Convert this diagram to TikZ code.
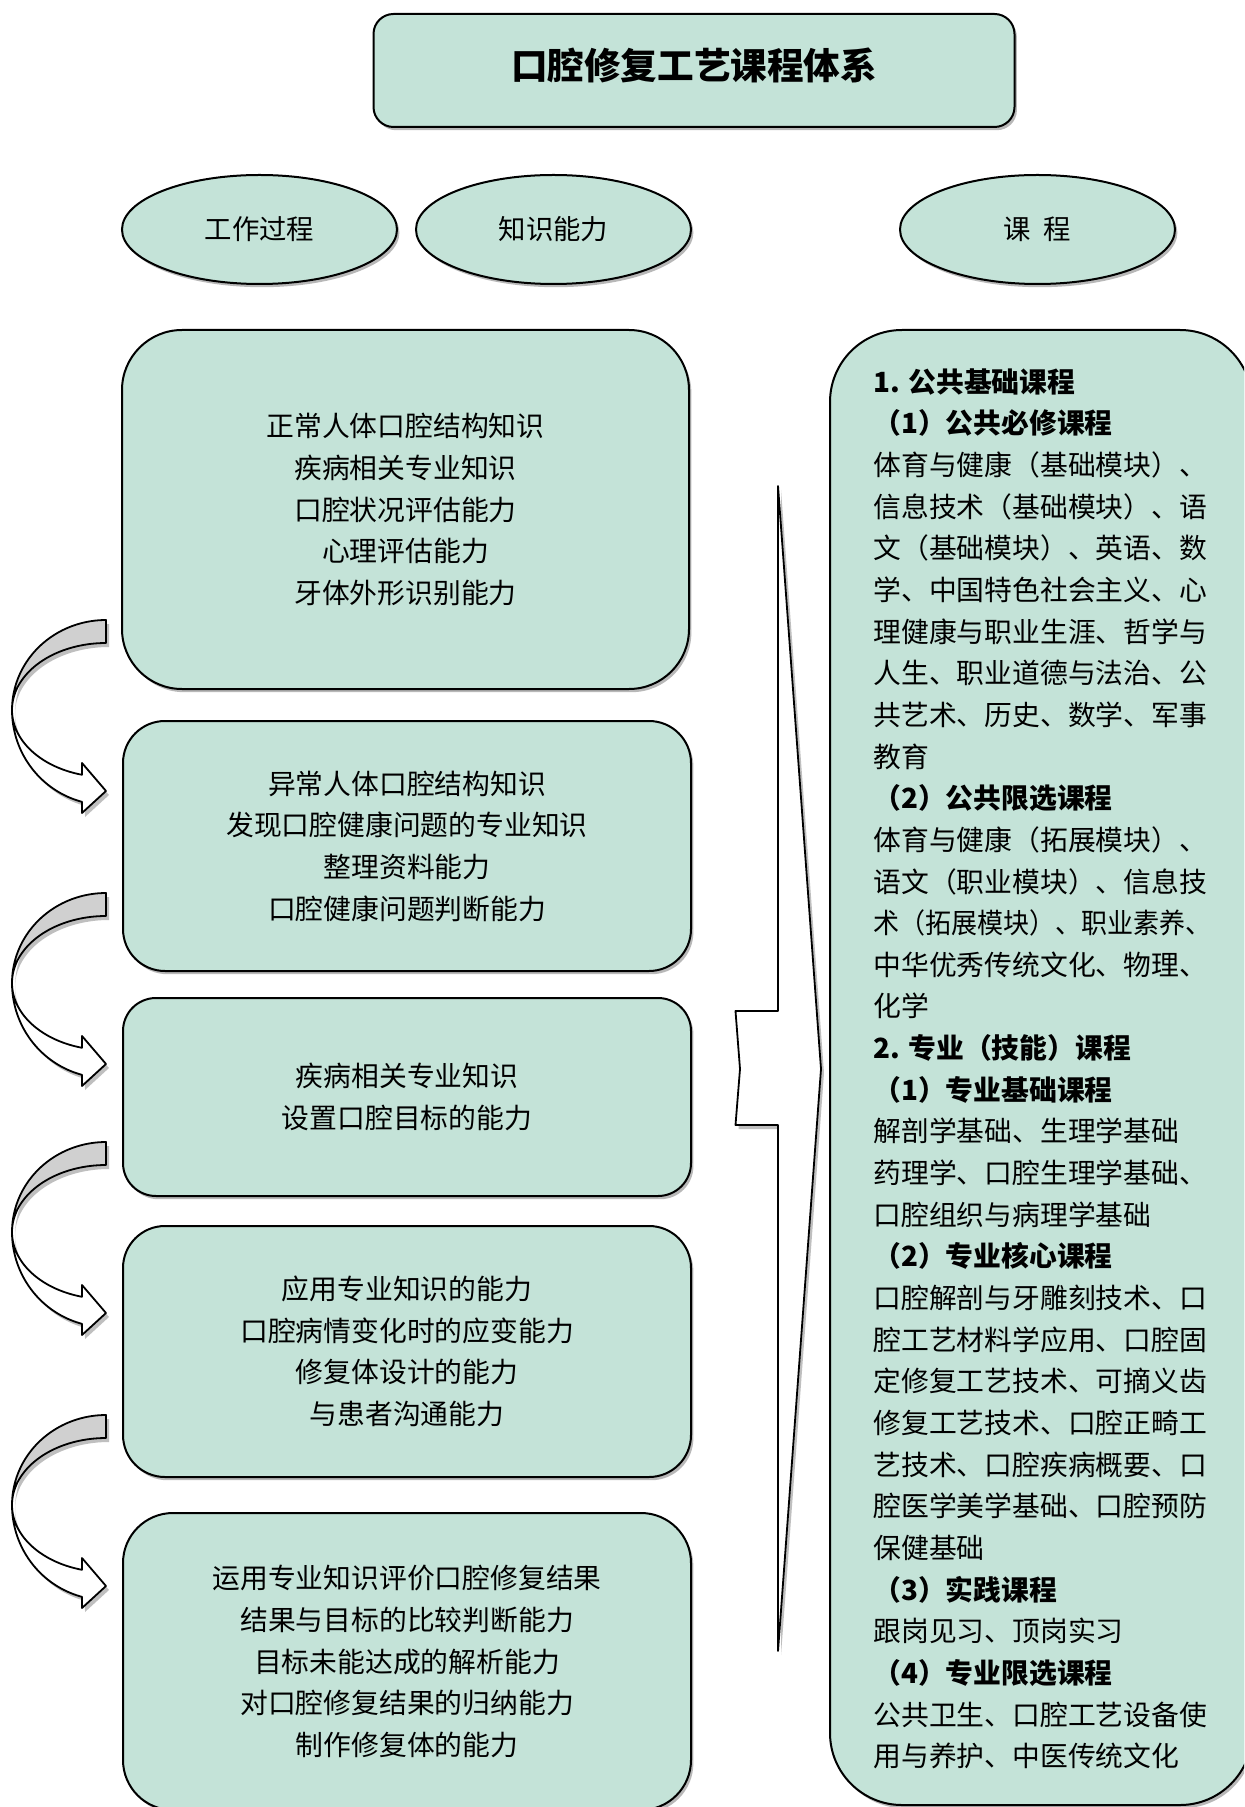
\documentclass[tikz,border=0pt]{standalone}
\usepackage{fontspec}
\usepackage{graphicx}
\setmainfont{Noto Sans CJK SC}
\usetikzlibrary{shapes.geometric,shadows}
\definecolor{boxgreen}{RGB}{196,227,216}
\definecolor{backgray}{RGB}{208,208,208}
\definecolor{shadowgray}{RGB}{140,140,140}
\newcommand{\bodyfont}{\fontsize{13.9pt}{20.83pt}\selectfont}
\newcommand{\curvarrow}[1]{%
  \begin{scope}[shift={(0,#1)}]
    \begin{scope}[shift={(3,4)}]
      \fill[shadowgray,opacity=0.55]
        plot[domain=90:180,samples=40,variable=\a] ({106+94*cos(\a)},{90-90*sin(\a)})
        -- plot[domain=180:90,samples=40,variable=\a] ({106+94*cos(\a)},{90-67*sin(\a)}) -- cycle;
      \fill[shadowgray,opacity=0.55]
        plot[domain=180:255.2,samples=40,variable=\a] ({106+94*cos(\a)},{90-95*sin(\a)})
        -- (82,193) -- (106,171) -- (82,143) -- (82,154.8)
        -- plot[domain=255.2:180,samples=40,variable=\a] ({106+94*cos(\a)},{90-67*sin(\a)}) -- cycle;
    \end{scope}
    \filldraw[arrowline,fill=backgray]
      plot[domain=90:180,samples=40,variable=\a] ({106+94*cos(\a)},{90-90*sin(\a)})
      -- plot[domain=180:90,samples=40,variable=\a] ({106+94*cos(\a)},{90-67*sin(\a)}) -- cycle;
    \filldraw[arrowline,fill=white]
      plot[domain=180:255.2,samples=40,variable=\a] ({106+94*cos(\a)},{90-95*sin(\a)})
      -- (82,193) -- (106,171) -- (82,143) -- (82,154.8)
      -- plot[domain=255.2:180,samples=40,variable=\a] ({106+94*cos(\a)},{90-67*sin(\a)}) -- cycle;
  \end{scope}}
\begin{document}
\begin{tikzpicture}[x=0.5pt,y=-0.5pt,
  arrowline/.style={draw=black,line width=0.9pt,line join=round},
  myshadow/.style={drop shadow={shadow xshift=1.2pt,shadow yshift=-1.6pt,fill=black!55,opacity=0.5}},
  greenbox/.style={draw=black,line width=1pt,fill=boxgreen,align=center,inner sep=0pt,myshadow,font=\bodyfont},
  oval/.style={ellipse,draw=black,line width=1pt,fill=boxgreen,inner sep=0pt,myshadow,
    minimum width=137.5pt,minimum height=54.5pt,font=\fontsize{13.7pt}{16pt}\selectfont},
  rline/.style={anchor=base west,inner sep=0pt,font=\bodyfont}]
\useasboundingbox (0,0) rectangle (1244,1807);
\clip (0,0) rectangle (1244,1807);
\fill[white] (0,0) rectangle (1244,1807);

% title
\node[greenbox,minimum width=320.5pt,minimum height=56.5pt,rounded corners=10pt,
  font=\fontsize{18.3pt}{22pt}\selectfont\bfseries] (title) at (694,70.5) {};
\node[inner sep=0pt,font=\fontsize{18.3pt}{22pt}\selectfont\bfseries] (titletext) at (694,65) {口腔修复工艺课程体系};

% headers
\node[oval] (e1) at (259.5,229.5) {工作过程};
\node[oval] (e2) at (553.5,229.5) {知识能力};
\node[oval] (e3) at (1037.5,229.5) {课\hspace{0.45em}程};

% big arrow
\begin{scope}[shift={(3,4)}]
\fill[shadowgray,opacity=0.55] (778,486) -- (821,1069) -- (778,1651) -- (778,1125) -- (735.5,1125) -- (740,1069) -- (735.5,1011) -- (778,1011) -- cycle;
\end{scope}
\filldraw[arrowline,fill=white] (778,486) -- (821,1069) -- (778,1651) -- (778,1125) -- (735.5,1125) -- (740,1069) -- (735.5,1011) -- (778,1011) -- cycle;

% left boxes
\node[greenbox,minimum width=283.5pt,minimum height=179.5pt,rounded corners=30pt] (k1) at (405.5,509.5)
  {正常人体口腔结构知识\\疾病相关专业知识\\口腔状况评估能力\\心理评估能力\\牙体外形识别能力};
\node[greenbox,minimum width=284pt,minimum height=125pt,rounded corners=21pt] (k2) at (407,846)
  {异常人体口腔结构知识\\发现口腔健康问题的专业知识\\整理资料能力\\口腔健康问题判断能力};
\node[greenbox,minimum width=284pt,minimum height=99pt,rounded corners=16.5pt] (k3) at (407,1097)
  {疾病相关专业知识\\设置口腔目标的能力};
\node[greenbox,minimum width=284pt,minimum height=125.5pt,rounded corners=21pt] (k4) at (407,1351.5)
  {应用专业知识的能力\\口腔病情变化时的应变能力\\修复体设计的能力\\与患者沟通能力};
\node[greenbox,minimum width=284pt,minimum height=148.5pt,rounded corners=25pt] (k5) at (407,1661.5)
  {运用专业知识评价口腔修复结果\\结果与目标的比较判断能力\\目标未能达成的解析能力\\对口腔修复结果的归纳能力\\制作修复体的能力};

% curved arrows
\curvarrow{620}
\curvarrow{893}
\curvarrow{1142}
\curvarrow{1415}

% right box
\node[greenbox,minimum width=211pt,minimum height=737.5pt,rounded corners=36pt] (course) at (1041,1067.5) {};
\foreach \t [count=\i from 0] in {
  {\textbf{1. 公共基础课程}},
  {\textbf{（1）公共必修课程}},
  {体育与健康（基础模块）、},
  {信息技术（基础模块）、语},
  {文（基础模块）、英语、数},
  {学、中国特色社会主义、心},
  {理健康与职业生涯、哲学与},
  {人生、职业道德与法治、公},
  {共艺术、历史、数学、军事},
  {教育},
  {\textbf{（2）公共限选课程}},
  {体育与健康（拓展模块）、},
  {语文（职业模块）、信息技},
  {\scalebox{0.936}[1]{术（拓展模块）、职业素养、}},
  {中华优秀传统文化、物理、},
  {化学},
  {\textbf{2. 专业（技能）课程}},
  {\textbf{（1）专业基础课程}},
  {解剖学基础、生理学基础},
  {药理学、口腔生理学基础、},
  {口腔组织与病理学基础},
  {\textbf{（2）专业核心课程}},
  {口腔解剖与牙雕刻技术、口},
  {腔工艺材料学应用、口腔固},
  {定修复工艺技术、可摘义齿},
  {修复工艺技术、口腔正畸工},
  {艺技术、口腔疾病概要、口},
  {腔医学美学基础、口腔预防},
  {保健基础},
  {\textbf{（3）实践课程}},
  {跟岗见习、顶岗实习},
  {\textbf{（4）专业限选课程}},
  {公共卫生、口腔工艺设备使},
  {用与养护、中医传统文化}}
  \node[rline] (r\i) at (873,{392.2+41.65*\i}) {\t};
\end{tikzpicture}
\end{document}
